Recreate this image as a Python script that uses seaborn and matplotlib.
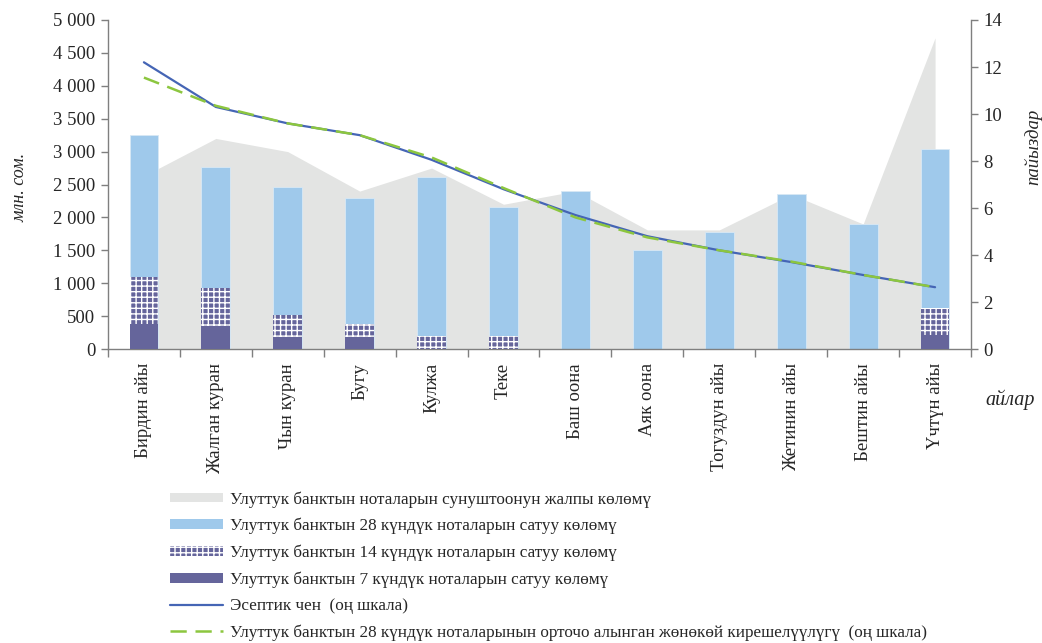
import numpy as np
import pandas as pd
import seaborn as sns
import matplotlib.pyplot as plt
from matplotlib.patches import Patch
from matplotlib.lines import Line2D
from matplotlib.ticker import FuncFormatter, FixedLocator

sns.set_theme(style='white')
plt.rcParams['font.family'] = ['Liberation Serif', 'DejaVu Serif']
plt.rcParams['hatch.linewidth'] = 1.0

# айлар
months = ['Бирдин айы', 'Жалган куран', 'Чын куран', 'Бугу', 'Кулжа', 'Теке',
          'Баш оона', 'Аяк оона', 'Тогуздун айы', 'Жетинин айы', 'Бештин айы', 'Үчтүн айы']

# млн. сом
offer_total = [2630, 3200, 3000, 2400, 2750, 2200, 2400, 1810, 1810, 2350, 1900, 4730]
sales_7 = [375, 350, 190, 190, 0, 0, 0, 0, 0, 0, 0, 220]
sales_14 = [725, 580, 330, 190, 200, 200, 0, 0, 0, 0, 0, 400]
sales_28 = [2150, 1840, 1940, 1920, 2420, 1960, 2400, 1500, 1780, 2350, 1900, 2420]

# пайыздар
discount_rate = [12.2, 10.3, 9.6, 9.1, 8.05, 6.8, 5.7, 4.8, 4.2, 3.7, 3.15, 2.63]
yield_28 = [11.55, 10.35, 9.6, 9.1, 8.15, 6.85, 5.6, 4.75, 4.2, 3.72, 3.15, 2.63]

labels = ['Улуттук банктын ноталарын сунуштоонун жалпы көлөмү',
          'Улуттук банктын 28 күндүк ноталарын сатуу көлөмү',
          'Улуттук банктын 14 күндүк ноталарын сатуу көлөмү',
          'Улуттук банктын 7 күндүк ноталарын сатуу көлөмү',
          'Эсептик чен  (оң шкала)',
          'Улуттук банктын 28 күндүк ноталарынын орточо алынган жөнөкөй кирешелүүлүгү  (оң шкала)']

c_gray = '#e3e4e3'
c_light = '#9fc9eb'
c_dark = '#65659b'
c_blue = '#4565b5'
c_green = '#8cc63f'
c_axis = '#7f7f7f'

df = pd.DataFrame({'month': months,
                   'd7': sales_7, 'd14': sales_14, 'd28': sales_28,
                   'total': offer_total})
df['top14'] = df['d7'] + df['d14']
df['top28'] = df['top14'] + df['d28']
pos = np.arange(len(months))

fig = plt.figure(figsize=(10.42, 6.43), dpi=100)
ax = fig.add_axes([0.1036, 0.4572, 0.8283, 0.5117])

# общий объем - серая область
ax.fill_between(pos, 0, df['total'], color=c_gray, lw=0, zorder=0.5)

sns.barplot(data=df, x='month', y='top28', color=c_light, width=0.4, saturation=1,
            edgecolor='#d8e8f5', linewidth=0.6, ax=ax, zorder=2)
sns.barplot(data=df, x='month', y='top14', color=c_dark, width=0.4, saturation=1,
            hatch='+++', edgecolor='white', linewidth=0, ax=ax, zorder=3)
sns.barplot(data=df, x='month', y='d7', color=c_dark, width=0.4, saturation=1,
            edgecolor=c_dark, linewidth=0, ax=ax, zorder=4)

ax.set_ylim(0, 5000)
ax.set_yticks(np.arange(0, 5001, 500))
ax.yaxis.set_major_formatter(FuncFormatter(lambda v, p: f'{int(v):,}'.replace(',', ' ')))
ax.set_xlabel('')
ax.set_ylabel('')
ax.set_xticks(pos)
ax.set_xticklabels(months, rotation=90, va='top', ha='center', fontsize=13.5)
ax.xaxis.set_minor_locator(FixedLocator(np.arange(-0.5, 12, 1)))
ax.tick_params(axis='x', which='major', length=0, pad=10)
ax.tick_params(axis='x', which='minor', length=6, width=1, color=c_axis, direction='out', bottom=True)
ax.tick_params(axis='y', length=5, width=1, color=c_axis, direction='out', left=True, labelsize=13.5, pad=4)
for s in ['top', 'right']:
    ax.spines[s].set_visible(False)
for s in ['left', 'bottom']:
    ax.spines[s].set_color(c_axis)
    ax.spines[s].set_linewidth(1)

# правая шкала
ax2 = ax.twinx()
sns.lineplot(x=pos, y=discount_rate, color=c_blue, lw=1.6, ax=ax2, zorder=5)
sns.lineplot(x=pos, y=yield_28, color=c_green, lw=1.8, linestyle=(0, (6.5, 3.5)), ax=ax2, zorder=6)
ax2.set_ylim(0, 14)
ax2.set_yticks(np.arange(0, 15, 2))
ax2.tick_params(axis='y', length=5, width=1, color=c_axis, direction='out', right=True, labelsize=13.5, pad=4)
ax2.set_ylabel('')
for s in ['top', 'left', 'bottom']:
    ax2.spines[s].set_visible(False)
ax2.spines['right'].set_color(c_axis)
ax2.spines['right'].set_linewidth(1)
ax2.patch.set_visible(False)
ax.set_xlim(-0.5, 11.5)
ax2.set_xlim(-0.5, 11.5)

fig.text(20 / 1042, 1 - 187 / 643, 'млн. сом.', rotation=90, ha='center', va='center',
         style='italic', fontsize=13)
fig.text(1033 / 1042, 1 - 147 / 643, 'пайыздар', rotation=90, ha='center', va='center',
         style='italic', fontsize=13.5)
fig.text(1010 / 1042, 1 - 400 / 643, 'айлар', ha='center', va='center',
         style='italic', fontsize=14.5)

handles = [Patch(facecolor=c_gray, edgecolor='none'),
           Patch(facecolor=c_light, edgecolor='none'),
           Patch(facecolor=c_dark, edgecolor='white', hatch='+++', linewidth=0),
           Patch(facecolor=c_dark, edgecolor='none'),
           Line2D([], [], color=c_blue, lw=1.6),
           Line2D([], [], color=c_green, lw=1.8, linestyle=(0, (6.5, 3.5)))]
fig.legend(handles, labels, loc='upper left', bbox_to_anchor=(170 / 1042, 1 - 491 / 643),
           frameon=False, fontsize=12.3, handlelength=3.1, handleheight=0.5, handletextpad=0.4,
           labelspacing=0.6, borderpad=0, borderaxespad=0)

fig.savefig('out.png', dpi=100)
